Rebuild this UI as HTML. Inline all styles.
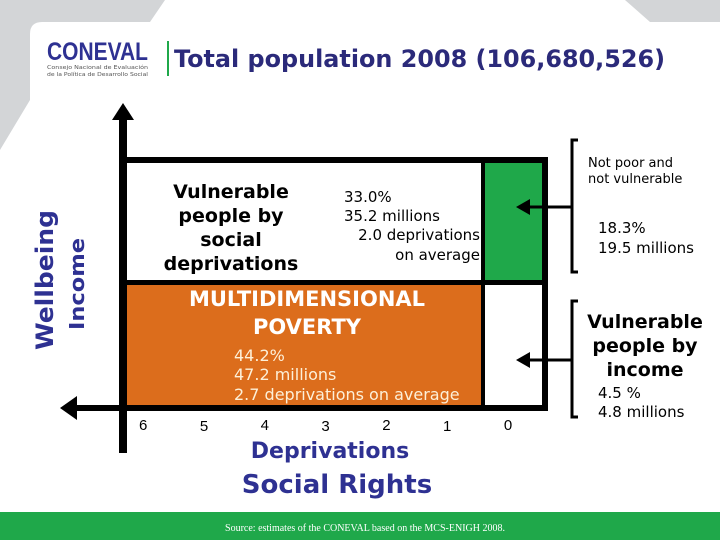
<!DOCTYPE html>
<html><head><meta charset="utf-8"><style>
html,body{margin:0;padding:0;background:#fff;}
svg{display:block;font-family:"DejaVu Sans","Liberation Sans",sans-serif;}
</style></head><body>
<svg width="720" height="540" viewBox="0 0 720 540" xmlns="http://www.w3.org/2000/svg">
<rect x="0" y="0" width="720" height="540" fill="#ffffff"/>
<path d="M0 0 H165 L150 22 H42 Q30 22 30 34 V100 L0 150 Z" fill="#d3d5d7"/>
<path d="M625 0 H720 V22 H650 Z" fill="#d3d5d7"/>

<g>
<text x="47" y="60" font-family="Liberation Sans, sans-serif" font-weight="bold" font-size="25" fill="#2e3192" textLength="101" lengthAdjust="spacingAndGlyphs">CONEVAL</text>
<text x="47" y="69" font-size="5" fill="#555" textLength="101" lengthAdjust="spacingAndGlyphs">Consejo Nacional de Evaluación</text>
<text x="47" y="76" font-size="5" fill="#555" textLength="101" lengthAdjust="spacingAndGlyphs">de la Política de Desarrollo Social</text>
</g>
<rect x="167" y="41" width="2" height="35" fill="#1fa84a"/>
<text x="174" y="67" font-weight="bold" font-size="24" fill="#2b2a7a" textLength="491" lengthAdjust="spacingAndGlyphs">Total population 2008 (106,680,526)</text>

<text transform="translate(53,280) rotate(-90)" text-anchor="middle" font-weight="bold" font-size="24" fill="#2e3192" textLength="140" lengthAdjust="spacingAndGlyphs">Wellbeing</text>
<text transform="translate(84,284) rotate(-90)" text-anchor="middle" font-weight="bold" font-size="20" fill="#2e3192" textLength="92" lengthAdjust="spacingAndGlyphs">Income</text>

<rect x="127" y="163" width="355" height="117" fill="#ffffff"/>
<rect x="485" y="163" width="57" height="117" fill="#1fa84a"/>
<rect x="127" y="285" width="354" height="120" fill="#dc6d1c"/>
<rect x="485" y="285" width="57" height="120" fill="#ffffff"/>

<g fill="#000">
<rect x="119" y="116" width="8" height="337"/>
<polygon points="123,103 112,120 134,120"/>
<rect x="119" y="157" width="429" height="6"/>
<rect x="542" y="157" width="6" height="254"/>
<rect x="127" y="280" width="421" height="5"/>
<rect x="481" y="157" width="4" height="254"/>
<rect x="72" y="405" width="476" height="6"/>
<polygon points="60,408 77,396 77,420"/>
</g>

<g font-size="19" font-weight="bold" fill="#000" text-anchor="middle">
<text x="231" y="198">Vulnerable</text><text x="231" y="222">people by</text><text x="231" y="246">social</text><text x="231" y="270">deprivations</text>
</g>
<g font-size="15" fill="#000">
<text x="344" y="202">33.0%</text><text x="344" y="221">35.2 millions</text>
<text x="480" y="240" text-anchor="end">2.0 deprivations</text><text x="480" y="260" text-anchor="end">on average</text>
</g>
<g font-size="21" font-weight="bold" fill="#fff" text-anchor="middle">
<text x="307" y="306">MULTIDIMENSIONAL</text><text x="307" y="334">POVERTY</text>
</g>
<g font-size="16" fill="#fdf0d8">
<text x="234" y="361">44.2%</text><text x="234" y="380">47.2 millions</text><text x="234" y="400">2.7 deprivations on average</text>
</g>

<g id="ticks" font-family="Liberation Sans, sans-serif" font-size="15" fill="#000" text-anchor="middle"></g>

<text x="330" y="458" text-anchor="middle" font-weight="bold" font-size="22" fill="#2e3192">Deprivations</text>
<text x="337" y="493" text-anchor="middle" font-weight="bold" font-size="26" fill="#2e3192">Social Rights</text>

<g fill="none" stroke="#000" stroke-width="3">
<path d="M578 140 H572 V272 H578"/>
<line x1="572" y1="207" x2="522" y2="207"/>
</g>
<polygon points="516,207 530,199 530,215" fill="#000"/>
<g fill="none" stroke="#000" stroke-width="3">
<path d="M578 301 H572 V417 H578"/>
<line x1="572" y1="360" x2="522" y2="360"/>
</g>
<polygon points="516,360 530,352 530,368" fill="#000"/>

<g font-size="13" fill="#000">
<text x="588" y="167">Not poor and</text><text x="588" y="183">not vulnerable</text>
</g>
<g font-size="15" fill="#000">
<text x="598" y="233">18.3%</text><text x="598" y="253">19.5 millions</text>
</g>
<g font-size="19" font-weight="bold" fill="#000" text-anchor="middle">
<text x="645" y="328">Vulnerable</text><text x="645" y="352">people by</text><text x="645" y="376">income</text>
</g>
<g font-size="15" fill="#000">
<text x="598" y="398">4.5 %</text><text x="598" y="417">4.8 millions</text>
</g>

<rect x="0" y="512" width="720" height="28" fill="#1fa84a"/>
<text x="365" y="531" text-anchor="middle" font-family="Liberation Serif, serif" font-size="10" fill="#fff">Source: estimates of the CONEVAL based on the MCS-ENIGH 2008.</text>
</svg>
<script>
const tickLabels = ["6","5","4","3","2","1","0"];
const tickValues = [6,5,4,3,2,1,0];
function xScale(v){ return 508 - v * 60.8; }
const g = document.getElementById('ticks');
tickValues.forEach((v,i)=>{
  const t = document.createElementNS('http://www.w3.org/2000/svg','text');
  t.setAttribute('x', xScale(v));
  t.setAttribute('y', i % 2 === 0 ? 430 : 431);
  t.textContent = tickLabels[i];
  
  
  g.appendChild(t);
});
</script>
</body></html>
